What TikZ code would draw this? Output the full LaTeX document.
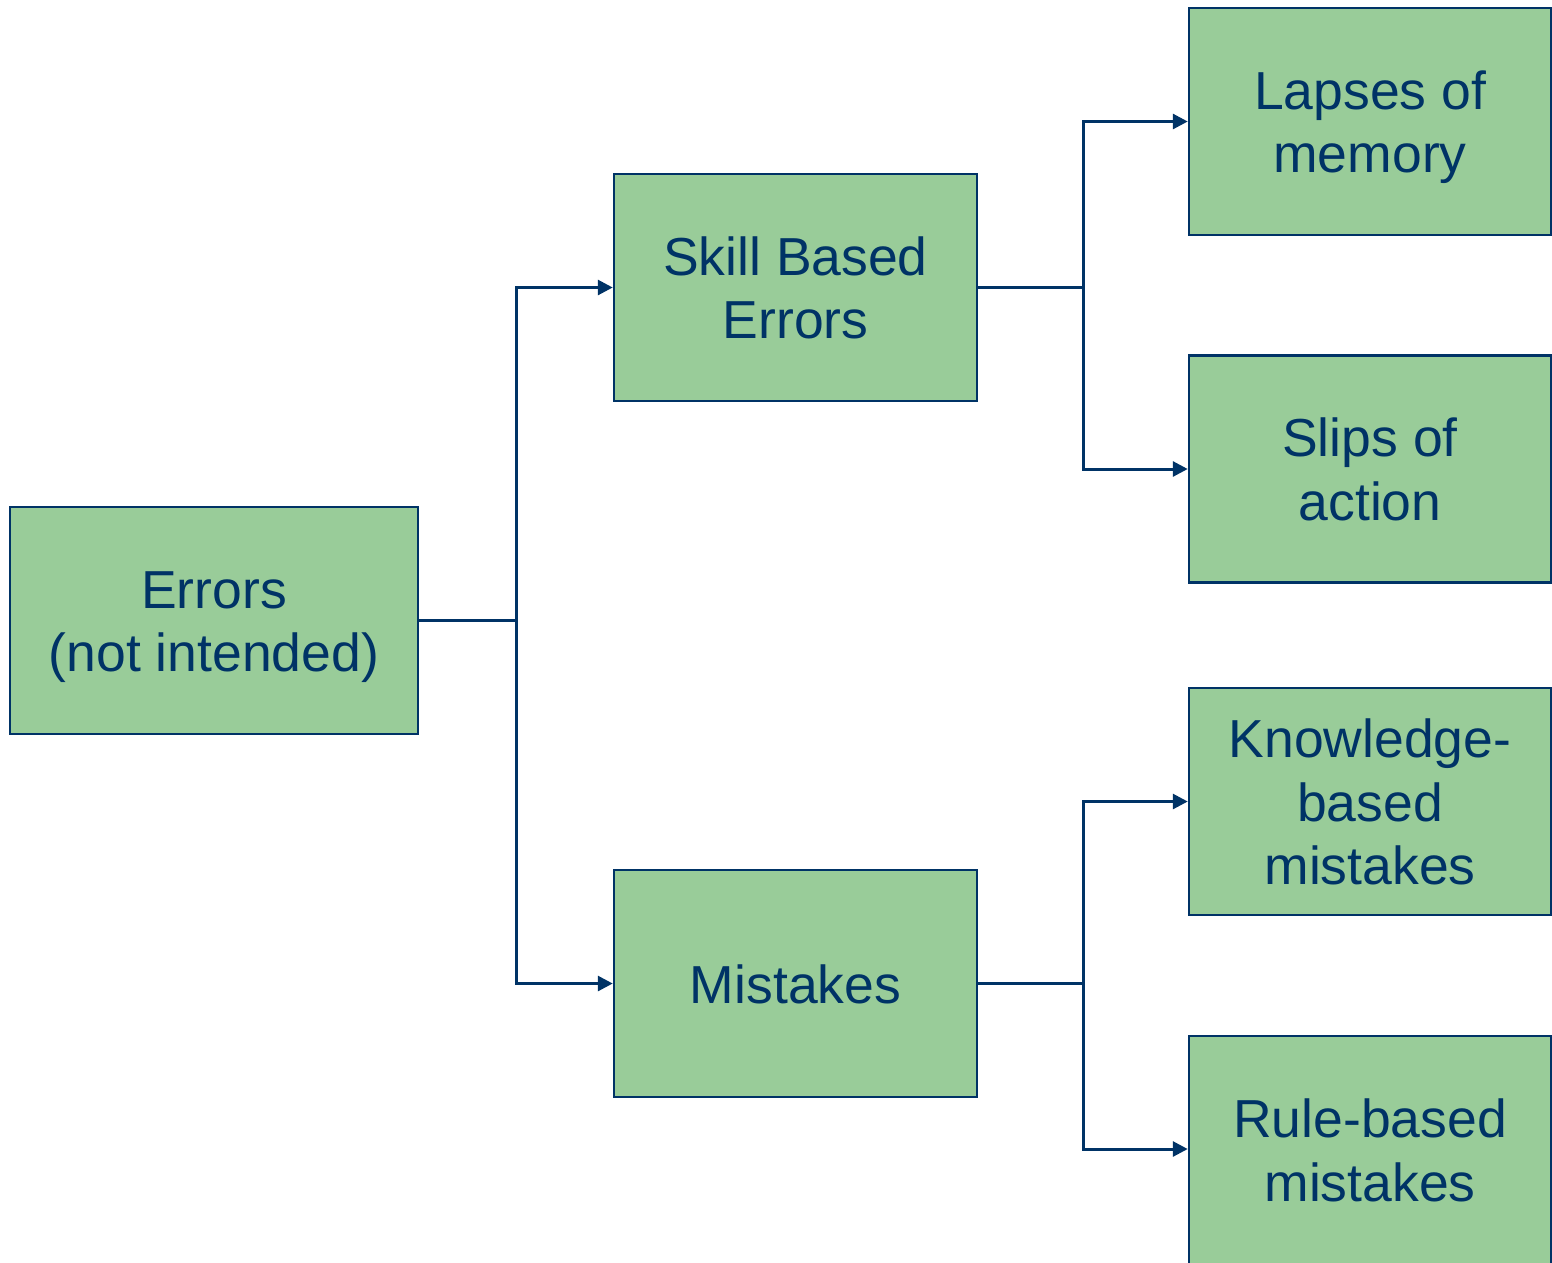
\documentclass[tikz,border=0pt]{standalone}
\usepackage{fontspec}
\setmainfont{Liberation Sans}
\usetikzlibrary{arrows.meta}
\definecolor{boxgreen}{HTML}{99CC99}
\definecolor{navy}{HTML}{003366}
\begin{document}
\begin{tikzpicture}[x=1pt,y=-1pt,
  box/.style={draw=navy, fill=boxgreen, line width=2.5pt, text=navy, align=center,
    font=\fontsize{53.5}{63.5}\selectfont, inner sep=0pt, minimum height=227pt,
    text depth=0pt},
  oneline/.style={text height=39pt},
  twoline/.style={text height=102.5pt},
  threeline/.style={text height=166pt},
  conn/.style={draw=navy, line width=3pt},
  arr/.style={conn, -{Triangle[length=15pt,width=15pt]}}]
\useasboundingbox (0,0) rectangle (1552,1262);
\clip (0,0) rectangle (1552,1262);
\node[box, twoline, minimum width=408pt] (err) at (214,620.5) {Errors\\(not intended)};
\node[box, twoline, minimum width=363pt] (skill) at (795.5,287.5) {Skill Based\\Errors};
\node[box, oneline, minimum width=363pt] (mist) at (795.5,983.5) {Mistakes};
\node[box, twoline, minimum width=362pt] (lapse) at (1370,121.5) {Lapses of\\memory};
\node[box, twoline, minimum width=362pt] (slip) at (1370,469) {Slips of\\action};
\node[box, threeline, minimum width=362pt] (know) at (1370,801.5) {Knowledge-\\based\\mistakes};
\node[box, minimum width=362pt, minimum height=231pt, text height=99.5pt] (rule) at (1370,1151.5) {Rule-based\\mistakes};
\coordinate (j1) at (516,620.5);
\coordinate (j2) at (1083,287.5);
\coordinate (j3) at (1083,983.5);
\draw[conn] (err.east) -- (j1);
\draw[arr] (j1) |- (skill.west);
\draw[arr] (j1) |- (mist.west);
\draw[conn] (skill.east) -- (j2);
\draw[arr] (j2) |- (lapse.west);
\draw[arr] (j2) |- (slip.west);
\draw[conn] (mist.east) -- (j3);
\draw[arr] (j3) |- (know.west);
\draw[arr] (j3) |- ([yshift=2.5pt]rule.west);
\end{tikzpicture}
\end{document}
